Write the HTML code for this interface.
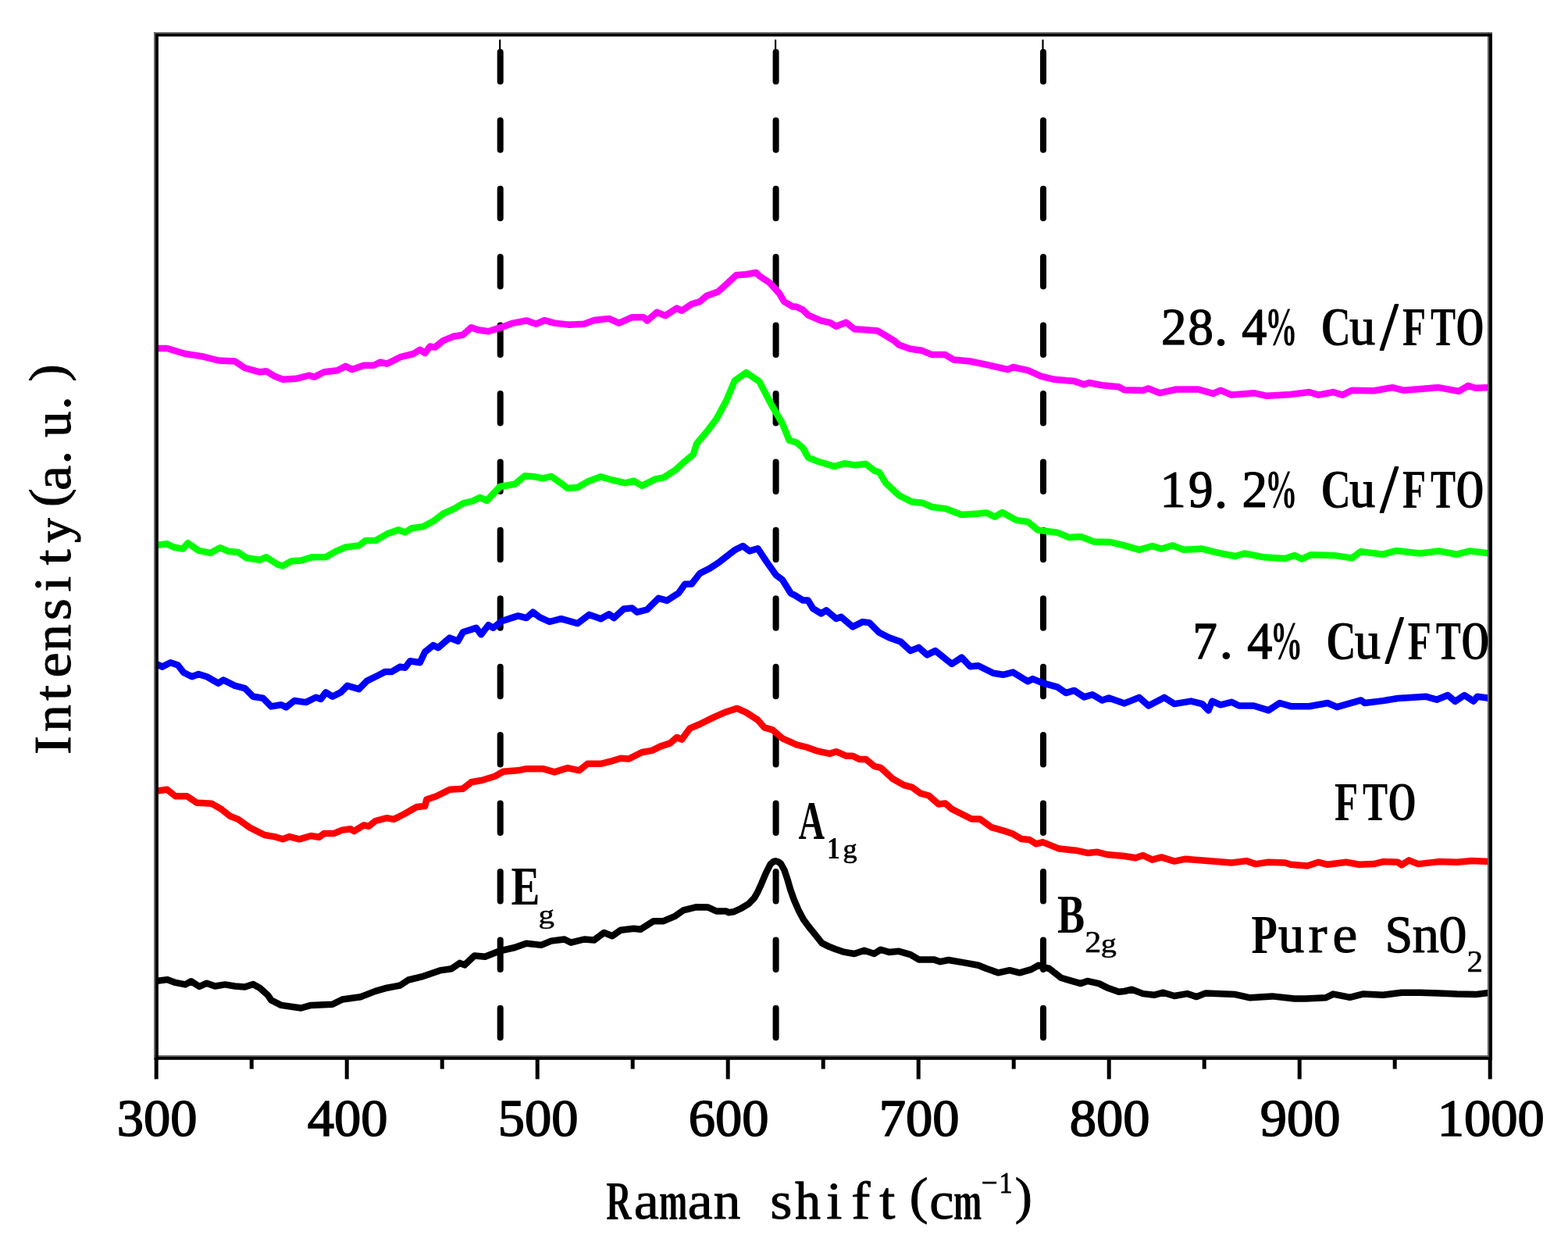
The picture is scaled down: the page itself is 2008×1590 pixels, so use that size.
<!DOCTYPE html>
<html><head><meta charset="utf-8"><title>Raman spectra</title>
<style>html,body{margin:0;padding:0;background:#fff;overflow:hidden;} svg{display:block;}</style>
</head><body>
<svg width="2008" height="1590" viewBox="0 0 2008 1590">
<rect x="0" y="0" width="2008" height="1590" fill="#fff"/>
<line x1="640.7" y1="66.8" x2="640.7" y2="1330" stroke="#000" stroke-width="8" stroke-linecap="round" stroke-dasharray="37.5 49.93"/>
<line x1="640.2" y1="51.5" x2="640.2" y2="66" stroke="#000" stroke-width="2.2" stroke-linecap="round"/>
<line x1="993.6" y1="66.8" x2="993.6" y2="1330" stroke="#000" stroke-width="8" stroke-linecap="round" stroke-dasharray="37.5 49.93"/>
<line x1="993.1" y1="51.5" x2="993.1" y2="66" stroke="#000" stroke-width="2.2" stroke-linecap="round"/>
<line x1="1336.0" y1="66.8" x2="1336.0" y2="1330" stroke="#000" stroke-width="8" stroke-linecap="round" stroke-dasharray="37.5 49.93"/>
<line x1="1335.5" y1="51.5" x2="1335.5" y2="66" stroke="#000" stroke-width="2.2" stroke-linecap="round"/>
<polyline points="201.3,446.0 214.0,446.0 237.3,453.0 258.5,456.2 279.7,461.5 300.8,462.5 313.5,471.0 332.6,476.3 341.0,475.2 351.6,481.6 362.2,485.8 379.1,484.8 396.0,480.5 402.4,482.6 415.0,476.3 432.0,474.2 442.6,468.9 451.0,473.1 465.9,467.8 478.6,467.8 487.0,463.6 495.5,465.7 512.4,457.2 529.4,453.0 537.8,447.7 544.2,452.0 550.6,443.5 556.9,444.6 567.5,436.1 580.2,430.8 592.9,428.7 603.5,419.2 611.9,422.3 625.4,424.2 642.3,418.9 657.1,413.6 674.1,410.4 686.8,414.7 697.4,410.0 710.0,413.6 729.1,415.7 748.1,414.7 760.8,410.0 779.9,407.9 792.6,413.6 809.5,406.2 824.3,406.2 828.6,410.4 841.3,399.8 851.9,404.1 866.7,394.6 873.0,397.7 885.7,389.3 896.3,386.1 904.8,378.7 919.6,373.4 930.2,363.9 942.9,352.2 955.6,351.2 968.3,349.0 972.5,353.3 985.2,361.7 997.9,375.5 1004.2,386.1 1014.8,392.4 1020.0,392.7 1028.5,396.9 1034.8,403.3 1051.7,410.7 1062.3,412.8 1070.8,417.7 1083.5,412.8 1094.1,421.3 1108.9,422.3 1123.7,423.4 1134.3,429.7 1144.9,436.1 1151.2,441.4 1166.0,446.7 1180.8,448.8 1193.5,454.1 1210.5,454.1 1221.0,460.4 1242.2,462.5 1263.4,466.8 1290.9,473.1 1297.2,470.0 1316.3,474.2 1333.2,481.6 1350.2,485.8 1375.6,487.9 1388.3,492.2 1394.6,490.0 1411.5,493.2 1432.7,495.3 1440.0,499.2 1463.7,499.7 1470.8,497.3 1485.0,503.2 1506.2,498.5 1534.6,498.5 1553.6,503.9 1563.0,499.7 1577.2,505.6 1605.6,503.2 1622.2,506.8 1652.9,504.9 1676.6,502.0 1688.4,505.6 1707.3,502.0 1719.2,505.6 1731.0,499.7 1759.4,500.2 1783.0,496.1 1797.2,499.7 1828.0,497.3 1842.2,496.1 1868.2,500.9 1880.0,493.8 1889.5,496.8 1908.4,496.1" fill="none" stroke="#FF00FF" stroke-width="8.5" stroke-linejoin="round" stroke-linecap="butt"/>
<polyline points="201.3,697.8 214.0,696.3 222.5,700.5 234.2,702.6 240.5,695.2 254.3,704.8 269.1,707.9 281.8,701.2 292.4,705.8 305.0,706.9 315.6,714.3 332.6,716.8 341.0,713.2 355.8,722.8 362.2,724.4 372.8,718.5 385.5,717.5 400.3,713.2 417.2,713.2 429.9,705.8 442.6,700.5 459.6,698.4 468.0,692.1 480.7,692.1 495.5,683.6 510.3,678.3 518.8,681.5 527.3,676.2 542.1,674.1 554.8,667.3 567.5,657.6 582.3,650.8 592.9,644.4 605.6,641.3 614.8,636.7 623.3,641.0 640.2,623.0 659.3,619.8 672.0,609.2 684.7,610.3 695.2,612.4 705.8,609.8 718.5,618.7 727.0,625.1 739.7,624.0 752.4,616.6 769.3,610.3 784.1,614.5 801.1,618.3 811.6,615.6 822.2,621.9 839.2,613.4 849.7,611.3 864.6,601.8 875.1,592.3 887.8,581.7 892.1,567.9 904.8,553.1 917.5,536.2 930.2,512.9 940.7,487.5 955.6,476.9 972.5,488.6 987.3,517.1 1002.1,542.5 1010.6,563.7 1020.0,566.5 1028.5,573.9 1034.8,585.5 1047.5,590.8 1068.7,597.1 1081.4,593.3 1094.1,595.4 1108.9,594.0 1119.5,602.4 1125.8,604.6 1134.3,618.3 1151.2,634.2 1168.1,642.6 1180.8,643.7 1193.5,649.0 1210.5,651.1 1231.6,658.9 1252.8,657.5 1263.4,656.4 1274.0,661.7 1283.5,656.0 1301.5,665.9 1316.3,668.0 1329.0,678.6 1354.4,681.8 1369.2,688.1 1384.0,687.1 1401.0,693.4 1422.1,694.1 1440.0,698.3 1458.9,703.8 1475.5,699.0 1487.3,702.6 1501.5,698.3 1515.7,703.8 1539.4,702.6 1558.3,707.3 1582.0,712.0 1593.8,708.5 1617.4,713.2 1645.8,714.9 1657.6,710.9 1667.1,715.6 1678.9,710.2 1707.3,710.9 1731.0,714.4 1742.8,706.1 1771.2,709.7 1787.8,705.0 1818.5,708.5 1842.2,705.4 1865.8,709.7 1882.4,705.4 1908.4,708.5" fill="none" stroke="#00FF00" stroke-width="8.5" stroke-linejoin="round" stroke-linecap="butt"/>
<polyline points="201.3,850.4 207.7,853.6 218.3,848.3 227.8,851.5 235.2,861.0 245.8,866.3 254.3,863.1 264.8,866.3 279.7,874.8 286.0,870.5 300.8,877.9 313.5,881.1 324.1,891.7 336.8,893.8 347.4,904.4 360.1,902.3 366.4,905.4 377.0,897.0 391.8,899.1 404.5,892.8 410.9,894.9 417.2,886.4 425.7,891.7 436.3,886.4 444.7,877.9 459.6,882.2 470.1,871.6 485.0,864.2 493.4,859.9 501.9,859.9 512.4,853.6 518.8,854.7 525.2,846.2 537.8,848.3 544.2,834.6 554.8,826.1 561.1,829.3 575.9,816.6 586.5,820.8 592.9,809.2 609.8,803.9 616.2,812.3 625.4,800.2 631.7,803.8 642.3,795.3 655.0,791.1 663.5,788.4 674.1,791.1 682.5,783.7 691.0,790.1 703.7,796.0 718.5,792.2 739.7,798.1 754.5,786.9 769.3,792.2 779.9,786.2 786.2,791.1 798.9,779.5 809.5,778.4 815.9,783.7 828.6,780.5 843.4,765.7 854.0,768.9 868.8,759.4 877.2,747.7 885.7,747.7 896.3,734.0 909.0,727.6 921.7,719.2 940.7,704.3 951.3,699.0 959.8,705.4 970.4,702.2 981.0,718.1 993.7,736.1 1002.1,742.4 1012.7,759.4 1020.0,763.3 1028.5,768.6 1034.8,768.6 1041.2,779.2 1051.7,785.5 1058.1,781.3 1070.8,791.9 1077.1,789.7 1092.0,802.4 1104.7,796.1 1113.1,797.1 1125.8,809.8 1138.5,816.2 1153.3,821.5 1166.0,833.1 1176.6,828.9 1187.2,838.4 1197.8,833.1 1218.9,850.0 1231.6,841.6 1242.2,853.2 1252.8,852.2 1271.9,861.7 1284.6,863.8 1297.2,860.6 1316.3,872.3 1322.6,869.1 1335.3,874.4 1354.4,879.7 1365.0,887.1 1375.6,883.9 1388.3,892.4 1398.8,889.2 1411.5,896.6 1420.0,893.4 1440.0,900.4 1458.9,892.9 1470.8,903.5 1490.9,892.9 1503.9,901.1 1525.2,897.6 1539.4,901.1 1547.6,909.4 1552.4,897.6 1563.0,902.3 1577.2,898.8 1586.7,903.5 1605.6,903.5 1624.5,909.4 1638.7,900.0 1652.9,904.2 1676.6,904.2 1700.2,900.0 1712.1,905.2 1742.8,896.4 1747.5,900.0 1771.2,897.1 1790.1,894.0 1806.7,892.9 1825.6,891.7 1839.8,895.7 1854.0,890.0 1863.5,898.0 1875.3,890.0 1887.1,897.6 1891.9,891.7 1908.4,894.0" fill="none" stroke="#0000FF" stroke-width="8.5" stroke-linejoin="round" stroke-linecap="butt"/>
<polyline points="201.3,1012.5 214.0,1010.8 224.6,1019.3 239.4,1019.3 252.1,1027.7 271.2,1028.8 283.9,1036.2 294.5,1044.7 305.0,1048.9 319.9,1059.5 338.9,1069.0 351.6,1071.1 362.2,1074.3 370.7,1071.1 383.4,1074.3 398.2,1070.0 408.8,1071.7 415.1,1066.9 427.8,1066.9 438.4,1062.6 449.0,1061.2 453.2,1064.1 465.9,1056.3 472.3,1057.8 480.7,1051.0 495.5,1047.2 504.0,1048.9 518.8,1041.5 533.6,1033.0 544.2,1032.0 546.3,1023.5 559.0,1019.3 575.9,1010.8 592.9,1009.7 603.5,1001.3 616.9,999.0 633.9,993.7 644.4,987.8 663.5,986.3 674.1,984.2 695.2,984.2 710.0,988.4 727.0,983.1 741.8,986.3 752.4,977.8 769.3,977.8 782.0,974.7 794.7,970.8 805.3,971.5 822.2,963.0 834.9,960.9 845.5,955.6 858.2,951.4 866.7,944.0 873.0,946.7 883.6,932.3 896.3,927.0 913.2,918.6 930.2,911.2 943.9,906.9 955.6,912.2 970.4,921.7 978.8,931.3 989.4,934.4 1002.1,945.4 1020.0,953.3 1032.7,956.5 1047.5,961.7 1062.3,964.9 1070.8,962.2 1083.5,967.7 1092.0,967.7 1100.4,971.9 1108.9,971.9 1119.5,980.8 1127.9,982.9 1142.8,996.7 1157.6,1005.1 1168.1,1007.9 1178.7,1015.7 1189.3,1018.5 1202.0,1029.5 1210.5,1028.4 1218.9,1035.8 1235.9,1044.3 1244.3,1048.5 1254.9,1048.5 1269.7,1059.1 1284.6,1063.3 1297.2,1067.6 1307.8,1073.9 1318.4,1075.0 1326.9,1080.3 1335.3,1078.1 1356.5,1086.6 1377.7,1088.7 1392.5,1091.9 1405.2,1090.8 1417.9,1094.0 1440.0,1096.0 1454.2,1098.3 1463.7,1095.0 1475.5,1100.7 1487.3,1097.4 1503.9,1102.6 1518.1,1099.7 1546.5,1102.1 1577.2,1104.5 1596.1,1102.1 1608.0,1106.1 1624.5,1103.8 1645.8,1104.5 1652.9,1106.8 1674.2,1108.5 1688.4,1103.8 1700.2,1106.8 1723.9,1103.8 1740.4,1106.8 1759.4,1106.1 1771.2,1103.1 1790.1,1103.8 1794.9,1107.3 1804.3,1101.4 1816.2,1106.1 1842.2,1103.1 1865.8,1103.8 1884.8,1102.1 1908.4,1103.1" fill="none" stroke="#FF0000" stroke-width="8.5" stroke-linejoin="round" stroke-linecap="butt"/>
<polyline points="201.3,1255.8 214.0,1254.1 224.6,1257.9 237.3,1260.4 244.7,1256.2 255.3,1263.0 264.8,1258.7 275.4,1262.5 288.1,1260.4 300.8,1262.5 313.5,1263.6 324.1,1260.0 332.6,1264.7 343.1,1274.2 347.4,1280.5 360.1,1286.9 374.9,1289.0 385.5,1290.5 398.2,1286.9 425.7,1285.8 438.4,1279.5 461.7,1276.3 480.7,1268.9 495.5,1264.7 512.4,1261.5 523.0,1254.5 542.1,1249.8 563.3,1242.4 578.1,1240.3 588.7,1232.9 595.0,1235.4 607.7,1223.4 621.2,1224.7 640.2,1217.3 659.3,1213.0 674.1,1207.7 693.1,1209.9 705.8,1204.6 722.8,1202.5 731.2,1206.7 748.1,1202.5 760.8,1203.5 773.5,1194.0 784.1,1198.2 794.7,1190.8 811.6,1188.7 820.1,1189.8 837.0,1179.2 849.7,1179.2 864.6,1172.8 875.1,1165.4 892.1,1161.2 906.9,1161.6 917.5,1166.5 930.2,1166.5 932.8,1168.2 939.4,1167.3 948.9,1163.0 958.3,1157.4 965.8,1149.8 970.6,1141.3 975.3,1130.9 980.9,1117.7 986.6,1106.4 990.0,1103.3 993.2,1102.2 996.5,1103.2 999.8,1105.5 1004.5,1114.0 1008.3,1125.3 1012.1,1138.5 1016.8,1151.7 1022.5,1164.9 1029.0,1177.2 1036.6,1187.5 1045.1,1197.9 1052.6,1207.4 1062.1,1212.1 1069.6,1214.9 1081.4,1218.9 1094.1,1221.0 1106.8,1216.8 1119.5,1221.0 1127.9,1215.7 1138.5,1218.9 1151.2,1217.8 1166.0,1222.1 1176.6,1228.4 1195.7,1228.4 1204.1,1231.2 1214.7,1229.0 1235.9,1232.6 1252.8,1235.8 1263.4,1240.0 1278.2,1245.3 1293.0,1242.2 1305.7,1245.3 1320.5,1241.1 1330.0,1235.8 1335.3,1237.9 1343.8,1240.0 1358.6,1251.7 1369.2,1254.9 1384.0,1259.1 1392.5,1255.9 1407.3,1259.1 1417.9,1264.4 1432.7,1269.7 1440.0,1269.0 1449.5,1266.7 1463.7,1272.1 1477.9,1273.8 1489.7,1270.7 1503.9,1275.0 1520.4,1272.1 1532.3,1276.1 1544.1,1271.4 1581.9,1273.1 1600.9,1277.3 1629.3,1275.4 1657.6,1278.5 1671.8,1278.5 1697.9,1277.3 1707.3,1272.6 1728.6,1276.8 1745.2,1272.6 1771.2,1273.8 1794.9,1270.7 1818.5,1270.7 1842.2,1271.4 1865.8,1272.6 1889.5,1273.1 1908.4,1270.7" fill="none" stroke="#000000" stroke-width="8.5" stroke-linejoin="round" stroke-linecap="butt"/>
<rect x="197.1" y="41.2" width="1713.9" height="1.9" fill="#606060"/>
<rect x="197.1" y="41.2" width="1.8" height="1315.6" fill="#606060"/>
<rect x="1904.9" y="41.2" width="2.0" height="1315.6" fill="#606060"/>
<rect x="197.1" y="1351.0" width="1713.9" height="2.0" fill="#606060"/>
<rect x="198.9" y="43.1" width="1712.1" height="3.6" fill="#000"/>
<rect x="198.9" y="43.1" width="4.0" height="1313.7" fill="#000"/>
<rect x="1906.9" y="43.1" width="4.1" height="1313.7" fill="#000"/>
<rect x="198.9" y="1353.0" width="1712.1" height="3.8" fill="#000"/>
<line x1="200.2" y1="1354" x2="200.2" y2="1381.5" stroke="#000" stroke-width="5"/>
<line x1="322.2" y1="1354" x2="322.2" y2="1368.5" stroke="#000" stroke-width="5"/>
<line x1="444.2" y1="1354" x2="444.2" y2="1381.5" stroke="#000" stroke-width="5"/>
<line x1="566.2" y1="1354" x2="566.2" y2="1368.5" stroke="#000" stroke-width="5"/>
<line x1="688.2" y1="1354" x2="688.2" y2="1381.5" stroke="#000" stroke-width="5"/>
<line x1="810.2" y1="1354" x2="810.2" y2="1368.5" stroke="#000" stroke-width="5"/>
<line x1="932.2" y1="1354" x2="932.2" y2="1381.5" stroke="#000" stroke-width="5"/>
<line x1="1054.2" y1="1354" x2="1054.2" y2="1368.5" stroke="#000" stroke-width="5"/>
<line x1="1176.2" y1="1354" x2="1176.2" y2="1381.5" stroke="#000" stroke-width="5"/>
<line x1="1298.2" y1="1354" x2="1298.2" y2="1368.5" stroke="#000" stroke-width="5"/>
<line x1="1420.2" y1="1354" x2="1420.2" y2="1381.5" stroke="#000" stroke-width="5"/>
<line x1="1542.2" y1="1354" x2="1542.2" y2="1368.5" stroke="#000" stroke-width="5"/>
<line x1="1664.2" y1="1354" x2="1664.2" y2="1381.5" stroke="#000" stroke-width="5"/>
<line x1="1786.2" y1="1354" x2="1786.2" y2="1368.5" stroke="#000" stroke-width="5"/>
<line x1="1908.2" y1="1354" x2="1908.2" y2="1381.5" stroke="#000" stroke-width="5"/>
<g font-family='"Liberation Serif", "Noto Serif CJK SC", serif' font-weight="bold" fill="#000">
<text x="201.2" y="1454" font-size="68.5" text-anchor="middle" font-weight="normal" stroke="#000" stroke-width="1.6">300</text>
<text x="445.2" y="1454" font-size="68.5" text-anchor="middle" font-weight="normal" stroke="#000" stroke-width="1.6">400</text>
<text x="689.2" y="1454" font-size="68.5" text-anchor="middle" font-weight="normal" stroke="#000" stroke-width="1.6">500</text>
<text x="933.2" y="1454" font-size="68.5" text-anchor="middle" font-weight="normal" stroke="#000" stroke-width="1.6">600</text>
<text x="1177.2" y="1454" font-size="68.5" text-anchor="middle" font-weight="normal" stroke="#000" stroke-width="1.6">700</text>
<text x="1421.2" y="1454" font-size="68.5" text-anchor="middle" font-weight="normal" stroke="#000" stroke-width="1.6">800</text>
<text x="1665.2" y="1454" font-size="68.5" text-anchor="middle" font-weight="normal" stroke="#000" stroke-width="1.6">900</text>
<text x="1909.2" y="1454" font-size="68.5" text-anchor="middle" font-weight="normal" stroke="#000" stroke-width="1.6">1000</text>
</g>
<g font-family='"Liberation Serif", "Noto Serif CJK SC", serif' font-weight="bold" fill="#000">
<text transform="translate(1503.00,441.37) scale(0.9446,0.9722204832843608)" x="-16.86" y="0.00" font-size="69" font-weight="normal" stroke="#000" stroke-width="1.27" stroke-linejoin="round">2</text>
<text transform="translate(1537.50,441.37) scale(0.9478,0.9722994885743834)" x="-17.25" y="0.00" font-size="69" font-weight="normal" stroke="#000" stroke-width="1.26" stroke-linejoin="round">8</text>
<text transform="translate(1563.50,441.53) scale(1.0500,0.9795443566095741)" x="-8.62" y="0.00" font-size="69" font-weight="normal" stroke="#000" stroke-width="0.93" stroke-linejoin="round">.</text>
<text transform="translate(1606.50,441.32) scale(0.9298,0.9700170074881073)" x="-17.38" y="0.00" font-size="69" font-weight="normal" stroke="#000" stroke-width="1.37" stroke-linejoin="round">4</text>
<text transform="translate(1641.00,442.00) scale(0.6022,1.0)" x="-34.80" y="0.00" font-size="69" font-weight="bold">%</text>
<text transform="translate(1710.00,442.00) scale(0.7703,1.0)" x="-23.97" y="0.00" font-size="69" font-weight="bold">C</text>
<text transform="translate(1744.50,441.40) scale(0.9633,0.9734794350446524)" x="-17.12" y="0.00" font-size="69" font-weight="normal" stroke="#000" stroke-width="1.21" stroke-linejoin="round">u</text>
<text transform="translate(1779.00,446.53) scale(1.2000,1.256)" x="-9.59" y="0.00" font-size="69" font-weight="normal" stroke="#000" stroke-width="1.40" stroke-linejoin="round">/</text>
<text transform="translate(1810.20,442.00) scale(0.7144,1.0)" x="-20.01" y="0.00" font-size="69" font-weight="bold">F</text>
<text transform="translate(1848.00,442.00) scale(0.6994,1.0)" x="-23.03" y="0.00" font-size="69" font-weight="bold">T</text>
<text transform="translate(1882.50,442.00) scale(0.6792,1.0)" x="-26.84" y="0.00" font-size="69" font-weight="bold">O</text>
<text transform="translate(1503.00,649.46) scale(0.9779,0.9761791441521286)" x="-18.21" y="0.00" font-size="69" font-weight="normal" stroke="#000" stroke-width="1.08" stroke-linejoin="round">1</text>
<text transform="translate(1537.50,649.28) scale(0.9122,0.968588771005247)" x="-16.95" y="0.00" font-size="69" font-weight="normal" stroke="#000" stroke-width="1.43" stroke-linejoin="round">9</text>
<text transform="translate(1563.50,649.53) scale(1.0500,0.9795443566095741)" x="-8.62" y="0.00" font-size="69" font-weight="normal" stroke="#000" stroke-width="0.93" stroke-linejoin="round">.</text>
<text transform="translate(1606.50,649.37) scale(0.9446,0.9722204832843608)" x="-16.86" y="0.00" font-size="69" font-weight="normal" stroke="#000" stroke-width="1.27" stroke-linejoin="round">2</text>
<text transform="translate(1641.00,650.00) scale(0.6022,1.0)" x="-34.80" y="0.00" font-size="69" font-weight="bold">%</text>
<text transform="translate(1710.00,650.00) scale(0.7703,1.0)" x="-23.97" y="0.00" font-size="69" font-weight="bold">C</text>
<text transform="translate(1744.50,649.40) scale(0.9633,0.9734794350446524)" x="-17.12" y="0.00" font-size="69" font-weight="normal" stroke="#000" stroke-width="1.21" stroke-linejoin="round">u</text>
<text transform="translate(1779.00,654.53) scale(1.2000,1.256)" x="-9.59" y="0.00" font-size="69" font-weight="normal" stroke="#000" stroke-width="1.40" stroke-linejoin="round">/</text>
<text transform="translate(1810.20,650.00) scale(0.7144,1.0)" x="-20.01" y="0.00" font-size="69" font-weight="bold">F</text>
<text transform="translate(1848.00,650.00) scale(0.6994,1.0)" x="-23.03" y="0.00" font-size="69" font-weight="bold">T</text>
<text transform="translate(1882.50,650.00) scale(0.6792,1.0)" x="-26.84" y="0.00" font-size="69" font-weight="bold">O</text>
<text transform="translate(1544.30,842.78) scale(0.9056,0.9681771495997165)" x="-18.53" y="0.00" font-size="69" font-weight="normal" stroke="#000" stroke-width="1.45" stroke-linejoin="round">7</text>
<text transform="translate(1570.30,843.03) scale(1.0500,0.9795443566095741)" x="-8.62" y="0.00" font-size="69" font-weight="normal" stroke="#000" stroke-width="0.93" stroke-linejoin="round">.</text>
<text transform="translate(1613.30,842.82) scale(0.9298,0.9700170074881073)" x="-17.38" y="0.00" font-size="69" font-weight="normal" stroke="#000" stroke-width="1.37" stroke-linejoin="round">4</text>
<text transform="translate(1647.80,843.50) scale(0.6022,1.0)" x="-34.80" y="0.00" font-size="69" font-weight="bold">%</text>
<text transform="translate(1716.80,843.50) scale(0.7703,1.0)" x="-23.97" y="0.00" font-size="69" font-weight="bold">C</text>
<text transform="translate(1751.30,842.90) scale(0.9633,0.9734794350446524)" x="-17.12" y="0.00" font-size="69" font-weight="normal" stroke="#000" stroke-width="1.21" stroke-linejoin="round">u</text>
<text transform="translate(1785.80,848.03) scale(1.2000,1.256)" x="-9.59" y="0.00" font-size="69" font-weight="normal" stroke="#000" stroke-width="1.40" stroke-linejoin="round">/</text>
<text transform="translate(1817.00,843.50) scale(0.7144,1.0)" x="-20.01" y="0.00" font-size="69" font-weight="bold">F</text>
<text transform="translate(1854.80,843.50) scale(0.6994,1.0)" x="-23.03" y="0.00" font-size="69" font-weight="bold">T</text>
<text transform="translate(1889.30,843.50) scale(0.6792,1.0)" x="-26.84" y="0.00" font-size="69" font-weight="bold">O</text>
<text transform="translate(1723.20,1050.00) scale(0.7144,1.0)" x="-20.01" y="0.00" font-size="69" font-weight="bold">F</text>
<text transform="translate(1761.00,1050.00) scale(0.6994,1.0)" x="-23.03" y="0.00" font-size="69" font-weight="bold">T</text>
<text transform="translate(1795.50,1050.00) scale(0.6792,1.0)" x="-26.84" y="0.00" font-size="69" font-weight="bold">O</text>
<text transform="translate(1619.00,1219.80) scale(0.7923,1.0)" x="-20.69" y="0.00" font-size="69" font-weight="bold">P</text>
<text transform="translate(1653.50,1219.20) scale(0.9633,0.9734794350446524)" x="-17.12" y="0.00" font-size="69" font-weight="normal" stroke="#000" stroke-width="1.21" stroke-linejoin="round">u</text>
<text transform="translate(1688.00,1219.33) scale(1.0500,0.9795443566095741)" x="-11.88" y="0.00" font-size="69" font-weight="normal" stroke="#000" stroke-width="0.93" stroke-linejoin="round">r</text>
<text transform="translate(1722.50,1219.33) scale(1.0500,0.9795443566095741)" x="-15.46" y="0.00" font-size="69" font-weight="normal" stroke="#000" stroke-width="0.93" stroke-linejoin="round">e</text>
<text transform="translate(1791.50,1219.10) scale(0.9193,0.9693157747913922)" x="-19.36" y="0.00" font-size="69" font-weight="normal" stroke="#000" stroke-width="1.40" stroke-linejoin="round">S</text>
<text transform="translate(1826.00,1219.29) scale(1.0029,0.9776819118661567)" x="-17.52" y="0.00" font-size="69" font-weight="normal" stroke="#000" stroke-width="1.02" stroke-linejoin="round">n</text>
<text transform="translate(1860.50,1219.80) scale(0.6792,1.0)" x="-26.84" y="0.00" font-size="69" font-weight="bold">O</text>
<text transform="translate(1888.40,1244.23) scale(1.0265,0.9795443566095741)" x="-9.78" y="0.00" font-size="40" font-weight="normal" stroke="#000" stroke-width="0.54" stroke-linejoin="round">2</text>
<text transform="translate(672.10,1157.60) scale(0.8013,1.0)" x="-21.83" y="0.00" font-size="69" font-weight="bold">E</text>
<text transform="translate(700.20,1181.53) scale(1.0251,0.832612703118138)" x="-10.48" y="0.00" font-size="40" font-weight="normal" stroke="#000" stroke-width="0.54" stroke-linejoin="round">g</text>
<text transform="translate(1039.40,1074.30) scale(0.6742,1.0)" x="-25.00" y="0.00" font-size="69" font-weight="bold">A</text>
<text transform="translate(1068.00,1098.70) scale(0.8420,1.0)" x="-10.57" y="0.00" font-size="40" font-weight="bold">1</text>
<text transform="translate(1089.00,1098.27) scale(0.9045,0.8225169825343739)" x="-10.48" y="0.00" font-size="40" font-weight="normal" stroke="#000" stroke-width="0.85" stroke-linejoin="round">g</text>
<text transform="translate(1371.30,1194.40) scale(0.7636,1.0)" x="-22.62" y="0.00" font-size="69" font-weight="bold">B</text>
<text transform="translate(1399.40,1219.43) scale(1.0500,0.9795443566095741)" x="-9.78" y="0.00" font-size="40" font-weight="normal" stroke="#000" stroke-width="0.54" stroke-linejoin="round">2</text>
<text transform="translate(1420.40,1219.41) scale(1.0060,0.8314485726833553)" x="-10.48" y="0.00" font-size="40" font-weight="normal" stroke="#000" stroke-width="0.58" stroke-linejoin="round">g</text>
<text transform="translate(793.00,1560.80) scale(0.6500,1.0)" x="-25.81" y="0.00" font-size="69" font-weight="bold">R</text>
<text transform="translate(828.60,1560.33) scale(1.0500,0.9795443566095741)" x="-16.05" y="0.00" font-size="69" font-weight="normal" stroke="#000" stroke-width="0.93" stroke-linejoin="round">a</text>
<text transform="translate(862.40,1560.80) scale(0.6311,1.0)" x="-29.08" y="0.00" font-size="69" font-weight="bold">m</text>
<text transform="translate(897.30,1560.33) scale(1.0500,0.9795443566095741)" x="-16.05" y="0.00" font-size="69" font-weight="normal" stroke="#000" stroke-width="0.93" stroke-linejoin="round">a</text>
<text transform="translate(931.40,1560.29) scale(1.0029,0.9776819118661567)" x="-17.52" y="0.00" font-size="69" font-weight="normal" stroke="#000" stroke-width="1.02" stroke-linejoin="round">n</text>
<text transform="translate(1000.40,1560.33) scale(1.0500,0.9795443566095741)" x="-13.59" y="0.00" font-size="69" font-weight="normal" stroke="#000" stroke-width="0.93" stroke-linejoin="round">s</text>
<text transform="translate(1034.50,1560.15) scale(0.9459,0.9715940914192883)" x="-17.13" y="0.00" font-size="69" font-weight="normal" stroke="#000" stroke-width="1.29" stroke-linejoin="round">h</text>
<text transform="translate(1068.50,1560.33) scale(1.0500,0.9795443566095741)" x="-9.65" y="0.00" font-size="69" font-weight="normal" stroke="#000" stroke-width="0.93" stroke-linejoin="round">i</text>
<text transform="translate(1103.50,1560.33) scale(1.0500,0.9795443566095741)" x="-12.55" y="0.00" font-size="69" font-weight="normal" stroke="#000" stroke-width="0.93" stroke-linejoin="round">f</text>
<text transform="translate(1136.40,1560.33) scale(1.0500,0.9795443566095741)" x="-9.72" y="0.00" font-size="69" font-weight="normal" stroke="#000" stroke-width="0.93" stroke-linejoin="round">t</text>
<text transform="translate(1176.90,1560.33) scale(1.0493,0.938403493631972)" x="-11.89" y="-7.90" font-size="69" font-weight="normal" stroke="#000" stroke-width="0.93" stroke-linejoin="round">(</text>
<text transform="translate(1206.10,1560.33) scale(1.0227,0.9795443566095741)" x="-15.57" y="0.00" font-size="69" font-weight="normal" stroke="#000" stroke-width="0.93" stroke-linejoin="round">c</text>
<text transform="translate(1239.30,1560.80) scale(0.6311,1.0)" x="-29.08" y="0.00" font-size="69" font-weight="bold">m</text>
<text transform="translate(1267.10,1527.10) scale(0.9236,0.9693643031897514)" x="-11.30" y="0.00" font-size="40" font-weight="normal" stroke="#000" stroke-width="0.81" stroke-linejoin="round">−</text>
<text transform="translate(1288.40,1527.02) scale(0.8556,0.9639779084945822)" x="-10.56" y="0.00" font-size="40" font-weight="normal" stroke="#000" stroke-width="0.95" stroke-linejoin="round">1</text>
<text transform="translate(1310.40,1560.25) scale(0.9581,0.934888829062321)" x="-11.08" y="-7.90" font-size="69" font-weight="normal" stroke="#000" stroke-width="1.10" stroke-linejoin="round">)</text>
<text transform="translate(90.23,954.00) rotate(-90) scale(1.0500,0.9795443566095741)" x="-11.52" y="0.00" font-size="69" font-weight="normal" stroke="#000" stroke-width="0.93" stroke-linejoin="round">I</text>
<text transform="translate(90.19,919.20) rotate(-90) scale(1.0029,0.9776819118661567)" x="-17.52" y="0.00" font-size="69" font-weight="normal" stroke="#000" stroke-width="1.02" stroke-linejoin="round">n</text>
<text transform="translate(90.23,886.70) rotate(-90) scale(1.0500,0.9795443566095741)" x="-9.72" y="0.00" font-size="69" font-weight="normal" stroke="#000" stroke-width="0.93" stroke-linejoin="round">t</text>
<text transform="translate(90.23,851.40) rotate(-90) scale(1.0500,0.9795443566095741)" x="-15.46" y="0.00" font-size="69" font-weight="normal" stroke="#000" stroke-width="0.93" stroke-linejoin="round">e</text>
<text transform="translate(90.19,816.20) rotate(-90) scale(1.0029,0.9776819118661567)" x="-17.52" y="0.00" font-size="69" font-weight="normal" stroke="#000" stroke-width="1.02" stroke-linejoin="round">n</text>
<text transform="translate(90.23,780.10) rotate(-90) scale(1.0500,0.9795443566095741)" x="-13.59" y="0.00" font-size="69" font-weight="normal" stroke="#000" stroke-width="0.93" stroke-linejoin="round">s</text>
<text transform="translate(90.23,747.50) rotate(-90) scale(1.0500,0.9795443566095741)" x="-9.65" y="0.00" font-size="69" font-weight="normal" stroke="#000" stroke-width="0.93" stroke-linejoin="round">i</text>
<text transform="translate(90.23,713.20) rotate(-90) scale(1.0500,0.9795443566095741)" x="-9.72" y="0.00" font-size="69" font-weight="normal" stroke="#000" stroke-width="0.93" stroke-linejoin="round">t</text>
<text transform="translate(89.96,678.90) rotate(-90) scale(0.9061,0.8899616777257948)" x="-17.54" y="0.00" font-size="69" font-weight="normal" stroke="#000" stroke-width="1.49" stroke-linejoin="round">y</text>
<text transform="translate(90.23,636.70) rotate(-90) scale(1.0493,0.938403493631972)" x="-11.89" y="-7.90" font-size="69" font-weight="normal" stroke="#000" stroke-width="0.93" stroke-linejoin="round">(</text>
<text transform="translate(90.23,611.10) rotate(-90) scale(1.0500,0.9795443566095741)" x="-16.05" y="0.00" font-size="69" font-weight="normal" stroke="#000" stroke-width="0.93" stroke-linejoin="round">a</text>
<text transform="translate(90.23,585.60) rotate(-90) scale(1.0500,0.9795443566095741)" x="-8.62" y="0.00" font-size="69" font-weight="normal" stroke="#000" stroke-width="0.93" stroke-linejoin="round">.</text>
<text transform="translate(90.10,543.30) rotate(-90) scale(0.9633,0.9734794350446524)" x="-17.12" y="0.00" font-size="69" font-weight="normal" stroke="#000" stroke-width="1.21" stroke-linejoin="round">u</text>
<text transform="translate(90.23,516.00) rotate(-90) scale(1.0500,0.9795443566095741)" x="-8.62" y="0.00" font-size="69" font-weight="normal" stroke="#000" stroke-width="0.93" stroke-linejoin="round">.</text>
<text transform="translate(90.15,477.80) rotate(-90) scale(0.9581,0.934888829062321)" x="-11.08" y="-7.90" font-size="69" font-weight="normal" stroke="#000" stroke-width="1.10" stroke-linejoin="round">)</text>
</g>
</svg>
</body></html>
